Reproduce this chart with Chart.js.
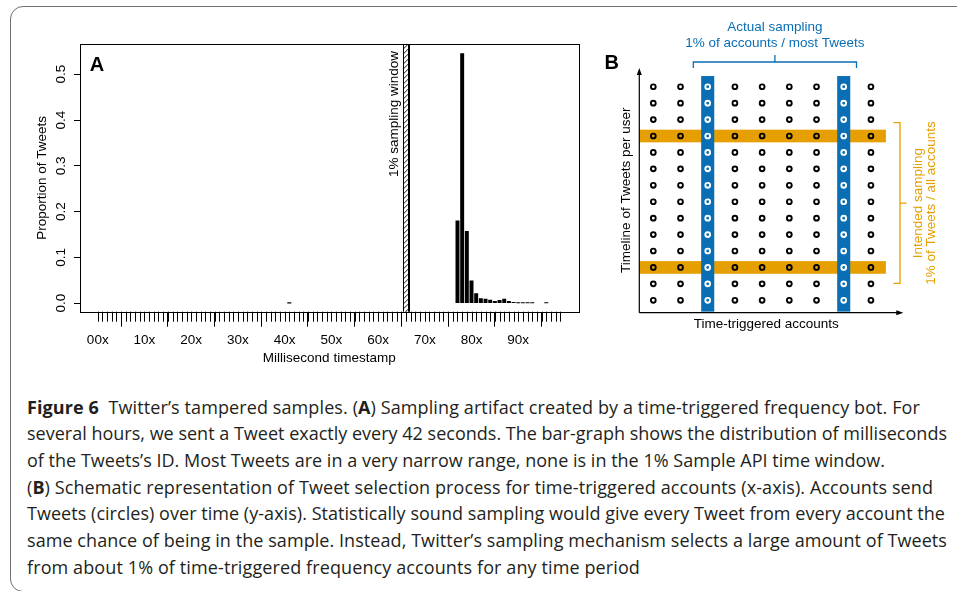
<!DOCTYPE html>
<html>
<head>
<meta charset="utf-8">
<script src="https://cdn.jsdelivr.net/npm/chart.js@4"></script>
<style>
body{margin:0;background:#fff;width:957px;height:591px;overflow:hidden;position:relative}
#frame{position:absolute;left:10px;top:6px;width:1000px;height:586px;border:1.3px solid #707070;border-radius:13px;box-sizing:border-box}
#chartA{position:absolute;left:0;top:0}
#chartB{position:absolute;left:600px;top:0}
#caption{position:absolute;left:27px;top:393.6px;color:#231f20;font-family:"Open Sans",sans-serif;font-size:16px}
#caption div{width:max-content;white-space:pre;height:26.7px;line-height:26.7px}
</style>
</head>
<body>
<div id="frame"></div>
<canvas id="chartA" width="600" height="380"></canvas>
<canvas id="chartB" width="357" height="340"></canvas>
<div id="caption">
<div><b>Figure 6</b>  Twitter’s tampered samples. (<b>A</b>) Sampling artifact created by a time-triggered frequency bot. For</div>
<div>several hours, we sent a Tweet exactly every 42 seconds. The bar-graph shows the distribution of milliseconds</div>
<div>of the Tweets’s ID. Most Tweets are in a very narrow range, none is in the 1% Sample API time window.</div>
<div>(<b>B</b>) Schematic representation of Tweet selection process for time-triggered accounts (x-axis). Accounts send</div>
<div>Tweets (circles) over time (y-axis). Statistically sound sampling would give every Tweet from every account the</div>
<div>same chance of being in the sample. Instead, Twitter’s sampling mechanism selects a large amount of Tweets</div>
<div>from about 1% of time-triggered frequency accounts for any time period</div>
</div>
<script>
// panel A: millisecond bucket (x10) and proportion of tweets
const msBucket = [41, 77, 78, 79, 80, 81, 82, 83, 84, 85, 86, 87, 88, 89, 90, 91, 92, 93, 96]
const proportion = [0.0002, 0.180, 0.545, 0.157, 0.049, 0.021, 0.010, 0.009, 0.007, 0.004, 0.006, 0.009, 0.004, 0.002, 0.0008, 0.0008, 0.0008, 0.0006, 0.0004]
const xMajorTicks = [0, 10, 20, 30, 40, 50, 60, 70, 80, 90]
const xTickLabels = ['00x', '10x', '20x', '30x', '40x', '50x', '60x', '70x', '80x', '90x']
const yTicks = [0, 0.1, 0.2, 0.3, 0.4, 0.5]
const yTickLabels = ['0.0', '0.1', '0.2', '0.3', '0.4', '0.5']
const samplingWindow = [65.4, 66.6]

// panel B: schematic accounts x tweets
const accounts = [1, 2, 3, 4, 5, 6, 7, 8, 9]
const tweetRows = [1, 2, 3, 4, 5, 6, 7, 8, 9, 10, 11, 12, 13, 14]
const sampledAccounts = [3, 8]
const intendedRows = [3, 11]

const BLUE = '#0a6eb4'
const ORANGE = '#e69f00'
const AX_FONT = '"Liberation Sans", Arial, sans-serif'

const panelA = {
    id: 'panelA',
    afterDraw(chart) {
        const ctx = chart.ctx
        const x = chart.scales.x, y = chart.scales.y
        const area = chart.chartArea
        ctx.save()
        // sampling window hatch
        const x1 = x.getPixelForValue(samplingWindow[0]), x2 = x.getPixelForValue(samplingWindow[1])
        const w = x2 - x1
        ctx.save()
        ctx.beginPath()
        ctx.rect(x1, area.top, w, area.bottom - area.top)
        ctx.clip()
        ctx.strokeStyle = '#000'
        ctx.lineWidth = 0.9
        ctx.beginPath()
        for (let yy = area.top - w; yy < area.bottom + w; yy += 5) {
            ctx.moveTo(x1, yy + w)
            ctx.lineTo(x2, yy)
        }
        ctx.stroke()
        ctx.restore()
        ctx.strokeStyle = '#000'
        ctx.lineWidth = 1
        ctx.beginPath()
        ctx.moveTo(Math.round(x1) + 0.5, area.top)
        ctx.lineTo(Math.round(x1) + 0.5, area.bottom)
        ctx.stroke()
        ctx.lineWidth = 2
        ctx.beginPath()
        ctx.moveTo(Math.round(x2), area.top)
        ctx.lineTo(Math.round(x2), area.bottom)
        ctx.stroke()
        // window label
        ctx.fillStyle = '#000'
        ctx.font = '13.5px ' + AX_FONT
        ctx.save()
        ctx.translate(x1 - 9, area.top + 7)
        ctx.rotate(-Math.PI / 2)
        ctx.textAlign = 'right'
        ctx.textBaseline = 'middle'
        ctx.fillText('1% sampling window', 0, 0)
        ctx.restore()
        // box
        ctx.lineWidth = 1
        ctx.strokeRect(Math.round(area.left) + 0.5, Math.round(area.top) + 0.5, Math.round(area.right - area.left), Math.round(area.bottom - area.top))
        // minor ticks
        ctx.beginPath()
        for (let k = 0; k <= 99; k++) {
            const px = Math.round(x.getPixelForValue(k)) + 0.5
            ctx.moveTo(px, area.bottom)
            ctx.lineTo(px, area.bottom + 10)
        }
        ctx.stroke()
        // rotated y tick labels
        ctx.font = '13.5px ' + AX_FONT
        yTicks.forEach((v, i) => {
            ctx.save()
            ctx.translate(area.left - 19, y.getPixelForValue(v))
            ctx.rotate(-Math.PI / 2)
            ctx.textAlign = 'center'
            ctx.textBaseline = 'middle'
            ctx.fillText(yTickLabels[i], 0, 0)
            ctx.restore()
        })
        // panel letter
        ctx.font = 'bold 20px ' + AX_FONT
        ctx.textAlign = 'center'
        ctx.textBaseline = 'middle'
        ctx.fillText('A', area.left + 17, area.top + 21)
        ctx.restore()
    }
}

new Chart(document.getElementById('chartA'), {
    type: 'bar',
    data: {
        datasets: [{
            data: msBucket.map((m, i) => ({ x: m, y: proportion[i] })),
            backgroundColor: '#000',
            borderWidth: 0,
            barThickness: 3.3
        }]
    },
    options: {
        responsive: false,
        animation: false,
        events: [],
        layout: { padding: { top: 44, right: 21.5, left: 0, bottom: 0 } },
        plugins: { legend: { display: false }, tooltip: { enabled: false } },
        scales: {
            x: {
                type: 'linear',
                offset: false,
                min: -3.8,
                max: 102.9,
                afterBuildTicks: s => { s.ticks = xMajorTicks.map(v => ({ value: v })) },
                afterFit: s => { s.height = 68.3 },
                border: { display: false },
                grid: { drawOnChartArea: false, tickLength: 15, color: '#000' },
                ticks: {
                    autoSkip: false, maxRotation: 0, padding: 5, color: '#000',
                    font: { family: AX_FONT, size: 13.5 },
                    callback: (v, i) => xTickLabels[i]
                },
                title: {
                    display: true, text: 'Millisecond timestamp', color: '#000',
                    font: { family: AX_FONT, size: 13.5 }, padding: { top: 0, bottom: 14 }
                }
            },
            y: {
                min: -0.0186,
                max: 0.566,
                afterBuildTicks: s => { s.ticks = yTicks.map(v => ({ value: v })) },
                afterFit: s => { s.width = 80 },
                border: { display: false },
                grid: { drawOnChartArea: false, tickLength: 6, color: '#000' },
                ticks: { display: false },
                title: {
                    display: true, text: 'Proportion of Tweets', color: '#000',
                    font: { family: AX_FONT, size: 13.5 }, padding: { top: 34, bottom: 0 }
                }
            }
        }
    },
    plugins: [panelA]
})

const panelB = {
    id: 'panelB',
    beforeDatasetsDraw(chart) {
        const ctx = chart.ctx
        const x = chart.scales.x, y = chart.scales.y
        ctx.save()
        ctx.fillStyle = ORANGE
        intendedRows.forEach(r => {
            const y1 = y.getPixelForValue(r + 0.385), y2 = y.getPixelForValue(r - 0.385)
            ctx.fillRect(x.left, y1, x.getPixelForValue(9.55) - x.left, y2 - y1)
        })
        ctx.fillStyle = BLUE
        sampledAccounts.forEach(a => {
            const x1 = x.getPixelForValue(a - 0.24), x2 = x.getPixelForValue(a + 0.24)
            const y1 = y.getPixelForValue(14.65), y2 = y.getPixelForValue(0.31)
            ctx.fillRect(x1, y1, x2 - x1, y2 - y1)
        })
        ctx.restore()
    },
    afterDraw(chart) {
        const ctx = chart.ctx
        const x = chart.scales.x, y = chart.scales.y
        const a = chart.chartArea
        ctx.save()
        // axes with arrows
        ctx.strokeStyle = '#000'
        ctx.fillStyle = '#000'
        ctx.lineWidth = 1.2
        ctx.beginPath()
        ctx.moveTo(a.left, a.bottom)
        ctx.lineTo(a.left, a.top + 5)
        ctx.moveTo(a.left, a.bottom)
        ctx.lineTo(a.right - 5, a.bottom)
        ctx.stroke()
        ctx.beginPath()
        ctx.moveTo(a.left, a.top)
        ctx.lineTo(a.left - 2.5, a.top + 7)
        ctx.lineTo(a.left + 2.5, a.top + 7)
        ctx.closePath()
        ctx.moveTo(a.right, a.bottom)
        ctx.lineTo(a.right - 7, a.bottom - 2.5)
        ctx.lineTo(a.right - 7, a.bottom + 2.5)
        ctx.closePath()
        ctx.fill()
        // axis titles
        ctx.font = '13.5px ' + AX_FONT
        ctx.textAlign = 'center'
        ctx.textBaseline = 'middle'
        ctx.fillText('Time-triggered accounts', x.getPixelForValue(5.15), a.bottom + 12)
        ctx.save()
        ctx.translate(a.left - 13, y.getPixelForValue(7.7))
        ctx.rotate(-Math.PI / 2)
        ctx.fillText('Timeline of Tweets per user', 0, 0)
        ctx.restore()
        // top bracket (actual sampling)
        const bx1 = x.getPixelForValue(2.47), bx2 = x.getPixelForValue(8.47), bxc = (bx1 + bx2) / 2
        const by = a.top - 6
        ctx.strokeStyle = BLUE
        ctx.fillStyle = BLUE
        ctx.lineWidth = 1.3
        ctx.beginPath()
        ctx.moveTo(bx1, a.top)
        ctx.lineTo(bx1, by)
        ctx.lineTo(bx2, by)
        ctx.lineTo(bx2, a.top)
        ctx.moveTo(bxc, by)
        ctx.lineTo(bxc, by - 7)
        ctx.stroke()
        ctx.fillText('Actual sampling', bxc, 27.5)
        ctx.fillText('1% of accounts / most Tweets', bxc, 43)
        // right bracket (intended sampling)
        const rx = x.getPixelForValue(10.07), rxl = x.getPixelForValue(9.83)
        const ry1 = y.getPixelForValue(11.81), ry2 = y.getPixelForValue(2.03), ryc = (ry1 + ry2) / 2
        ctx.strokeStyle = ORANGE
        ctx.fillStyle = ORANGE
        ctx.beginPath()
        ctx.moveTo(rxl, ry1)
        ctx.lineTo(rx, ry1)
        ctx.lineTo(rx, ry2)
        ctx.lineTo(rxl, ry2)
        ctx.moveTo(rx, ryc)
        ctx.lineTo(rx + 6.5, ryc)
        ctx.stroke()
        ctx.save()
        ctx.translate(rx + 18.5, ryc)
        ctx.rotate(-Math.PI / 2)
        ctx.fillText('Intended sampling', 0, 0)
        ctx.fillText('1% of Tweets / all accounts', 0, 12.5)
        ctx.restore()
        // panel letter
        ctx.fillStyle = '#000'
        ctx.font = 'bold 20px ' + AX_FONT
        ctx.fillText('B', 11.7, 63)
        ctx.restore()
    }
}

const cells = []
tweetRows.forEach(r => accounts.forEach(c => cells.push({ x: c, y: r })))

new Chart(document.getElementById('chartB'), {
    type: 'scatter',
    data: {
        datasets: [{
            data: cells,
            pointRadius: 2.4,
            pointBorderWidth: 1.9,
            pointBackgroundColor: 'rgba(0,0,0,0)',
            pointBorderColor: ctx => sampledAccounts.includes(ctx.raw.x) ? '#fff' : '#000'
        }]
    },
    options: {
        responsive: false,
        animation: false,
        events: [],
        layout: { padding: { left: 39.3, right: 53.7, top: 68, bottom: 27.3 } },
        plugins: { legend: { display: false }, tooltip: { enabled: false } },
        scales: {
            x: { type: 'linear', display: false, min: 0.485, max: 10.19 },
            y: { type: 'linear', display: false, min: 0.245, max: 15.14 }
        }
    },
    plugins: [panelB]
})

// fit caption size to the reference line widths
const cap = document.getElementById('caption')
const lineEnds = [920, 947, 885, 933, 945, 947, 640]
const w2 = cap.children[1].getBoundingClientRect().width
cap.style.fontSize = (16 * (lineEnds[1] - 27) / w2) + 'px'
Array.from(cap.children).forEach((d, i) => {
    const w = d.getBoundingClientRect().width
    const n = d.textContent.length
    d.style.letterSpacing = ((lineEnds[i] - 27 - w) / n) + 'px'
})
</script>
</body>
</html>
